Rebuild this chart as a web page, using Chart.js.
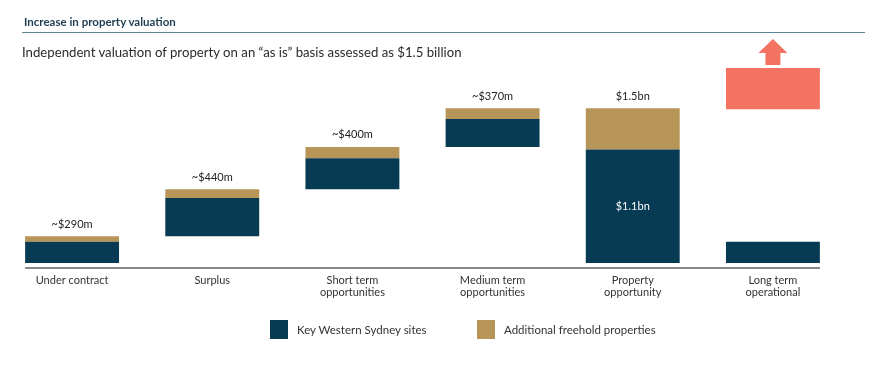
<!DOCTYPE html>
<html>
<head>
<meta charset="utf-8">
<script src="https://cdn.jsdelivr.net/npm/chart.js@4/dist/chart.umd.min.js"></script>
<style>
  body { margin: 0; background: #fff; font-family: Lato, "Open Sans", sans-serif; }
  #wrap { position: relative; width: 876px; height: 369px; overflow: hidden; }
  #chart { position: absolute; left: 0; top: 0; }
  #hdr { position: absolute; left: 24px; top: 15px; font-size: 11.5px; font-weight: bold; color: #1f3d52; }
  #rule { position: absolute; left: 22px; top: 32px; width: 843px; border-top: 1.5px solid #5d8594; }
  #sub { position: absolute; left: 22px; top: 44px; font-size: 13.2px; color: #2b2b2b; }
  #legend { position: absolute; left: 270px; top: 320px; display: flex; }
  .item { display: flex; align-items: center; width: 207px; font-size: 11.5px; color: #333; }
  .box { width: 18px; height: 19px; margin-right: 9px; }
</style>
</head>
<body>
<div id="wrap">
  <canvas id="chart" width="876" height="369"></canvas>
  <div id="hdr">Increase in property valuation</div>
  <div id="rule"></div>
  <div id="sub">Independent valuation of property on an “as is” basis assessed as $1.5 billion</div>
  <div id="legend"></div>
</div>
<script>
// categories, two lines where the picture wraps them
const categories = [
  ["Under contract"],
  ["Surplus"],
  ["Short term", "opportunities"],
  ["Medium term", "opportunities"],
  ["Property", "opportunity"],
  ["Long term", "operational"]
];

// floating segments [from, to] in $m
const westernSydney = [[0, 205], [260, 630], [715, 1015], [1125, 1395], [0, 1100], [0, 205]];
const freehold = [[205, 260], [630, 715], [1015, 1125], [1395, 1500], [1100, 1500], null];
const upside = [null, null, null, null, null, [1490, 1890]];

const totalLabels = ["~$290m", "~$440m", "~$400m", "~$370m", "$1.5bn", ""];
const innerLabels = ["", "", "", "", "$1.1bn", ""];

const seriesNames = ["Key Western Sydney sites", "Additional freehold properties"];
const colors = { navy: "#073b54", gold: "#b79457", red: "#f47262" };

const font = "Lato, 'Open Sans', sans-serif";

// axis line under the bars, only as wide as the bars
const baseLine = {
  id: "baseLine",
  afterDatasetsDraw(chart) {
    const bars = chart.getDatasetMeta(0).data;
    const first = bars[0], last = bars[bars.length - 1];
    const y = chart.chartArea.bottom + 5;
    const ctx = chart.ctx;
    ctx.save();
    ctx.strokeStyle = "#111";
    ctx.lineWidth = 1.2;
    ctx.beginPath();
    ctx.moveTo(first.x - first.width / 2, y);
    ctx.lineTo(last.x + last.width / 2, y);
    ctx.stroke();
    ctx.restore();
  }
};

// value labels above bars and inside the big navy bar
const valueLabels = {
  id: "valueLabels",
  afterDatasetsDraw(chart) {
    const ctx = chart.ctx;
    const navy = chart.getDatasetMeta(0).data;
    const gold = chart.getDatasetMeta(1).data;
    ctx.save();
    ctx.font = "11px " + font;
    ctx.textAlign = "center";
    ctx.textBaseline = "middle";
    totalLabels.forEach((t, i) => {
      if (!t) return;
      const el = freehold[i] ? gold[i] : navy[i];
      ctx.fillStyle = "#222";
      ctx.fillText(t, el.x, el.y - 12);
    });
    innerLabels.forEach((t, i) => {
      if (!t) return;
      const el = navy[i];
      ctx.fillStyle = "#fff";
      ctx.fillText(t, el.x, (el.y + el.base) / 2);
    });
    ctx.restore();
  }
};

// upward arrow sitting on the upside box
const upArrow = {
  id: "upArrow",
  afterDatasetsDraw(chart) {
    const ctx = chart.ctx;
    chart.getDatasetMeta(2).data.forEach((el, i) => {
      if (!upside[i]) return;
      const x = el.x, top = el.y;
      ctx.save();
      ctx.fillStyle = colors.red;
      ctx.beginPath();
      ctx.moveTo(x, top - 29);
      ctx.lineTo(x + 14.5, top - 15);
      ctx.lineTo(x + 7.5, top - 15);
      ctx.lineTo(x + 7.5, top - 3);
      ctx.lineTo(x - 7.5, top - 3);
      ctx.lineTo(x - 7.5, top - 15);
      ctx.lineTo(x - 14.5, top - 15);
      ctx.closePath();
      ctx.fill();
      ctx.restore();
    });
  }
};

new Chart(document.getElementById("chart"), {
  type: "bar",
  data: {
    labels: categories,
    datasets: [
      { label: seriesNames[0], data: westernSydney, backgroundColor: colors.navy },
      { label: seriesNames[1], data: freehold, backgroundColor: colors.gold },
      { label: "Upside", data: upside, backgroundColor: colors.red }
    ]
  },
  options: {
    responsive: false,
    animation: false,
    layout: { padding: { top: 36, left: 2, right: 33, bottom: 66 } },
    datasets: { bar: { categoryPercentage: 1, barPercentage: 0.67, borderWidth: 0 } },
    plugins: { legend: { display: false }, tooltip: { enabled: false } },
    scales: {
      x: {
        stacked: true,
        grid: { display: false, drawTicks: false },
        border: { display: false },
        ticks: { color: "#333", padding: 12, font: { family: font, size: 11, lineHeight: 1.05 } },
        afterFit(s) { s.height = 40; }
      },
      y: { display: false, min: 0, max: 2200 }
    }
  },
  plugins: [baseLine, valueLabels, upArrow]
});

// legend from the series names
const legend = document.getElementById("legend");
[colors.navy, colors.gold].forEach((c, i) => {
  const item = document.createElement("div");
  item.className = "item";
  item.innerHTML = '<span class="box" style="background:' + c + '"></span>' + seriesNames[i];
  legend.appendChild(item);
});
</script>
</body>
</html>
